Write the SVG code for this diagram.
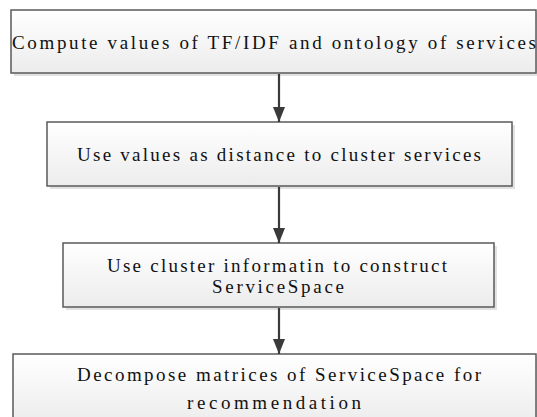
<svg xmlns="http://www.w3.org/2000/svg" width="537" height="417" viewBox="0 0 537 417" font-family="Liberation Serif, DejaVu Serif, Times New Roman, serif">
<style>
.box{fill:url(#g);stroke:#5a5a5a;stroke-width:1.5}
.sh{fill:#e2e2e2}
.t{font-family:"Liberation Serif",serif;font-size:19px;fill:#111}
.c{stroke:#3a3a3a;stroke-width:2.2;fill:none}
</style>
<defs>
<linearGradient id="g" x1="0" y1="0" x2="0" y2="1">
<stop offset="0" stop-color="#ffffff"/>
<stop offset="1" stop-color="#ececec"/>
</linearGradient>
<marker id="ah" viewBox="0 0 15 12" refX="15" refY="6" markerWidth="15" markerHeight="12" markerUnits="userSpaceOnUse" orient="auto">
<path d="M0,0 L15,6 L0,12 Z" fill="#3a3a3a"/>
</marker>
</defs>
<rect width="537" height="417" fill="#fff"/>
<g id="n1">
<rect class="sh" x="14" y="13" width="526" height="63"/>
<rect class="box" x="11" y="10" width="525" height="63"/>
<text class="t" x="12" y="49" textLength="524" lengthAdjust="spacing">Compute values of TF/IDF and ontology of services</text>
</g>
<g id="n2">
<rect class="sh" x="50" y="125" width="465" height="64"/>
<rect class="box" x="47" y="122" width="465" height="64"/>
<text class="t" x="77" y="161" textLength="404" lengthAdjust="spacing">Use values as distance to cluster services</text>
</g>
<g id="n3">
<rect class="sh" x="66" y="246" width="431" height="64"/>
<rect class="box" x="63" y="243" width="431" height="64"/>
<text class="t" x="107" y="272" textLength="340" lengthAdjust="spacing">Use cluster informatin to construct</text>
<text class="t" x="212" y="293" textLength="132" lengthAdjust="spacing">ServiceSpace</text>
</g>
<g id="n4">
<rect class="sh" x="16" y="357" width="523" height="70"/>
<rect class="box" x="13" y="354" width="523" height="70"/>
<text class="t" x="77" y="381" textLength="404" lengthAdjust="spacing">Decompose matrices of ServiceSpace for</text>
<text class="t" x="187" y="409" textLength="174" lengthAdjust="spacing">recommendation</text>
</g>
<g id="connectors">
<line class="c" x1="279" y1="74" x2="279" y2="122" marker-end="url(#ah)"/>
<line class="c" x1="279" y1="187" x2="279" y2="243" marker-end="url(#ah)"/>
<line class="c" x1="279" y1="308" x2="279" y2="354" marker-end="url(#ah)"/>
</g>
</svg>
